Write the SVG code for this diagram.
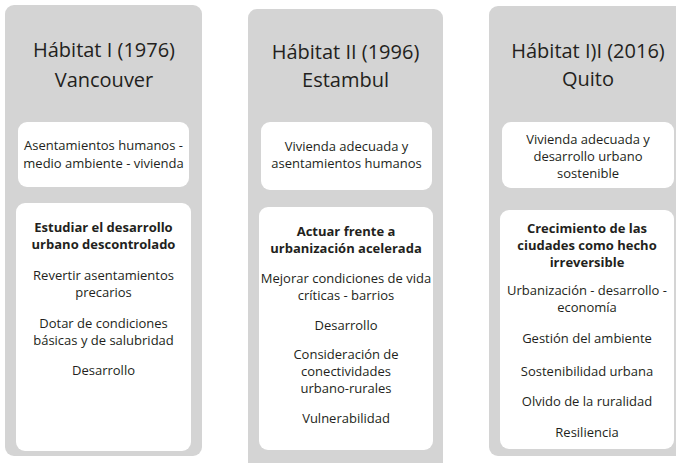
<svg xmlns="http://www.w3.org/2000/svg" width="676" height="463" viewBox="0 0 676 463">
<style>
.bg{fill:#d4d4d4}
.box{fill:#ffffff}
text{font-family:"Open Sans","Noto Sans","Liberation Sans",sans-serif;fill:#231f20;text-anchor:middle}
.t{font-size:20px}
.n{font-size:13px}
.b{font-size:13px;font-weight:bold}
</style>
<rect width="676" height="463" fill="#ffffff"/>
<g id="col1">
<rect class="bg" x="5" y="5" width="197" height="451" rx="9"/>
<text class="t" x="104" y="57">Hábitat I (1976)<tspan x="104" y="87">Vancouver</tspan></text>
<g id="col1-box1">
<rect class="box" x="18" y="122" width="171" height="65" rx="9"/>
<text class="n" x="103.5" y="150">Asentamientos humanos -<tspan x="103.5" y="168">medio ambiente - vivienda</tspan></text>
</g>
<g id="col1-box2">
<rect class="box" x="16" y="203" width="175" height="248" rx="9"/>
<text class="b" x="103.5" y="232">Estudiar el desarrollo<tspan x="103.5" y="249">urbano descontrolado</tspan></text>
<text class="n" x="103.5" y="280">Revertir asentamientos<tspan x="103.5" y="297">precarios</tspan></text>
<text class="n" x="103.5" y="328">Dotar de condiciones<tspan x="103.5" y="345">básicas y de salubridad</tspan></text>
<text class="n" x="103.5" y="375">Desarrollo</text>
</g>
</g>
<g id="col2">
<rect class="bg" x="248" y="9" width="195" height="462" rx="9"/>
<text class="t" x="345.5" y="59">Hábitat II (1996)<tspan x="345.5" y="87">Estambul</tspan></text>
<g id="col2-box1">
<rect class="box" x="261" y="122" width="171" height="68" rx="9"/>
<text class="n" x="346.5" y="151">Vivienda adecuada y<tspan x="346.5" y="168">asentamientos humanos</tspan></text>
</g>
<g id="col2-box2">
<rect class="box" x="259" y="207" width="174" height="243" rx="9"/>
<text class="b" x="346" y="236">Actuar frente a<tspan x="346" y="253">urbanización acelerada</tspan></text>
<text class="n" x="346" y="283">Mejorar condiciones de vida<tspan x="346" y="300">críticas - barrios</tspan></text>
<text class="n" x="346" y="330">Desarrollo</text>
<text class="n" x="346" y="359">Consideración de<tspan x="346" y="376">conectividades</tspan><tspan x="346" y="393">urbano-rurales</tspan></text>
<text class="n" x="346" y="423">Vulnerabilidad</text>
</g>
</g>
<g id="col3">
<rect class="bg" x="489" y="6" width="200" height="450" rx="9"/>
<text class="t" x="588" y="58">Hábitat I)I (2016)<tspan x="588" y="86">Quito</tspan></text>
<g id="col3-box1">
<rect class="box" x="502" y="122" width="172" height="66" rx="9"/>
<text class="n" x="588" y="144">Vivienda adecuada y<tspan x="588" y="161">desarrollo urbano</tspan><tspan x="588" y="178">sostenible</tspan></text>
</g>
<g id="col3-box2">
<rect class="box" x="500" y="210" width="174" height="239" rx="9"/>
<text class="b" x="587" y="233">Crecimiento de las<tspan x="587" y="250">ciudades como hecho</tspan><tspan x="587" y="267">irreversible</tspan></text>
<text class="n" x="587" y="295">Urbanización - desarrollo -<tspan x="587" y="312">economía</tspan></text>
<text class="n" x="587" y="343">Gestión del ambiente</text>
<text class="n" x="587" y="376">Sostenibilidad urbana</text>
<text class="n" x="587" y="406">Olvido de la ruralidad</text>
<text class="n" x="587" y="437">Resiliencia</text>
</g>
</g>
</svg>
